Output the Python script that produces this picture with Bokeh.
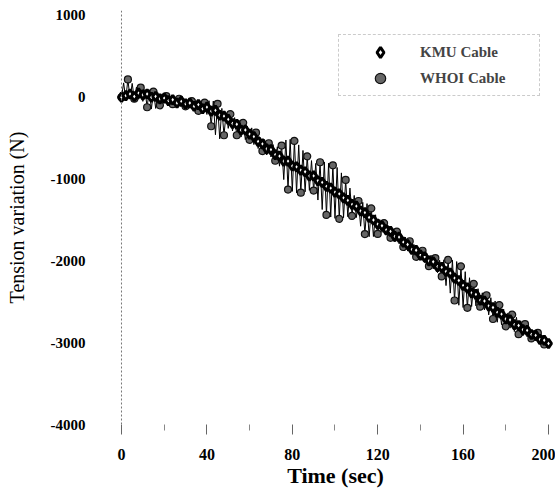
from bokeh.plotting import figure
from bokeh.models import Span, Legend, LegendItem, FixedTicker
from bokeh.embed import file_html
from bokeh.resources import INLINE

# ---- data ----
kmu_t = list(range(0, 201, 2))
kmu_v = [0, 20, 40, 10, 50, 30, 40, 0, 10, -20,
         -10, -40, -30, -70, -50, -80, -70, -110, -90, -140,
         -120, -170, -160, -220, -230, -270, -320, -330, -400, -400,
         -450, -480, -540, -570, -630, -640, -700, -720, -780, -780,
         -840, -850, -890, -910, -960, -960, -1020, -1040, -1090, -1110,
         -1160, -1180, -1230, -1260, -1310, -1330, -1390, -1410, -1470, -1500,
         -1550, -1570, -1620, -1640, -1700, -1710, -1770, -1800, -1860, -1870,
         -1930, -1950, -2000, -2010, -2070, -2080, -2130, -2150, -2210, -2240,
         -2300, -2330, -2390, -2410, -2480, -2490, -2550, -2570, -2630, -2650,
         -2710, -2720, -2780, -2790, -2840, -2850, -2900, -2910, -2960, -2970,
         -3010]

whoi_t = list(range(0, 201))
whoi_v = [0, 176, -18, 218, -16, 170, -18, 124, -24, 118,
          -50, 94, -122, 92, -144, 70, -136, 58, -98, 36,
          -60, 14, -72, 2, -84, -10, -94, -18, -102, -26,
          -110, -36, -132, -48, -144, -50, -166, -62, -188, -64,
          -210, -42, -354, -46, -458, -80, -508, -136, -464, -192,
          -380, -206, -412, -248, -464, -280, -486, -312, -518, -354,
          -520, -374, -578, -432, -626, -490, -658, -516, -704, -562,
          -730, -578, -776, -604, -842, -590, -1006, -522, -1128, -514,
          -1150, -534, -1168, -582, -1166, -650, -1156, -722, -1138, -774,
          -1140, -808, -1256, -794, -1372, -790, -1438, -806, -1464, -832,
          -1480, -858, -1486, -924, -1472, -1010, -1460, -1110, -1450, -1200,
          -1470, -1268, -1576, -1284, -1672, -1300, -1704, -1358, -1702, -1436,
          -1670, -1496, -1652, -1538, -1684, -1570, -1718, -1606, -1764, -1642,
          -1790, -1680, -1830, -1710, -1880, -1760, -1910, -1800, -1950, -1840,
          -1990, -1876, -2022, -1908, -2064, -1930, -2098, -1966, -2144, -1992,
          -2190, -1986, -2302, -1988, -2394, -1990, -2484, -2008, -2542, -2066,
          -2570, -2132, -2574, -2206, -2558, -2280, -2550, -2340, -2560, -2390,
          -2600, -2420, -2660, -2450, -2710, -2490, -2750, -2540, -2780, -2590,
          -2800, -2636, -2822, -2658, -2864, -2690, -2896, -2732, -2918, -2774,
          -2930, -2814, -2948, -2852, -2976, -2880, -3004, -2908, -3022, -2946,
          -3000]

x_ticks = [0, 40, 80, 120, 160, 200]
x_minor = [20, 60, 100, 140, 180]
y_ticks = [1000, 0, -1000, -2000, -3000, -4000]
y_tick_labels = ["1000", "0", "-1000", "-2000", "-3000", "-4000"]
series_names = ["KMU Cable", "WHOI Cable"]

p = figure(width=555, height=490, x_range=(-2.81, 203.28), y_range=(-4000, 1061),
           output_backend="svg", toolbar_location=None,
           min_border_left=115, min_border_right=0, min_border_top=10, min_border_bottom=66)
p.outline_line_color = None
p.grid.visible = False
p.background_fill_color = "white"

xa = p.xaxis[0]
xa.ticker = FixedTicker(ticks=x_ticks, minor_ticks=x_minor)
xa.axis_line_color = None
xa.major_tick_out = 10
xa.major_tick_in = 0
xa.minor_tick_out = 6
xa.minor_tick_in = 0
xa.major_tick_line_color = "#666666"
xa.minor_tick_line_color = "#888888"
xa.major_label_text_font = "Liberation Sans Narrow"
xa.major_label_text_font_style = "bold"
xa.major_label_text_font_size = "16px"
xa.major_label_text_color = "black"
xa.major_label_standoff = 14
xa.axis_label = "Time (sec)"
xa.axis_label_text_font = "Liberation Serif"
xa.axis_label_text_font_style = "bold"
xa.axis_label_text_font_size = "22px"
xa.axis_label_text_color = "black"
xa.axis_label_standoff = 0

ya = p.yaxis[0]
ya.ticker = FixedTicker(ticks=y_ticks)
ya.major_label_overrides = {t: s for t, s in zip(y_ticks, y_tick_labels)}
ya.axis_line_color = None
ya.major_tick_out = 0
ya.major_tick_in = 0
ya.minor_tick_line_color = None
ya.major_label_text_font = "Liberation Sans Narrow"
ya.major_label_text_font_style = "bold"
ya.major_label_text_font_size = "15px"
ya.major_label_text_color = "black"
ya.major_label_standoff = 30
ya.axis_label = "Tension variation (N)"
ya.axis_label_text_font = "Liberation Serif"
ya.axis_label_text_font_style = "normal"
ya.axis_label_text_font_size = "20px"
ya.axis_label_text_color = "black"
ya.axis_label_standoff = 20

p.add_layout(Span(location=0, dimension="height", line_color="#777777",
                  line_dash="2 2", line_width=1))

p.line(whoi_t, whoi_v, line_color="black", line_width=1)
whoi_r = p.scatter(whoi_t[::3], whoi_v[::3], marker="circle", size=7, fill_color="#666666",
                   line_color="#111111", line_width=1.2)
p.line(kmu_t, kmu_v, line_color="black", line_width=2.5)
kmu_r = p.scatter(kmu_t, kmu_v, marker="diamond", size=9, fill_color="white",
                  line_color="black", line_width=3)

legend = Legend(items=[LegendItem(label=series_names[0], renderers=[kmu_r]),
                       LegendItem(label=series_names[1], renderers=[whoi_r])],
                location=(223, 328), glyph_width=74, glyph_height=26, spacing=0,
                padding=4, margin=0, label_standoff=3, label_width=115,
                label_text_font="Liberation Serif", label_text_font_style="bold",
                label_text_font_size="15px", border_line_color="#999999",
                border_line_dash="1 2", background_fill_alpha=0)
p.add_layout(legend)

open("out.html", "w").write(file_html(p, INLINE))
